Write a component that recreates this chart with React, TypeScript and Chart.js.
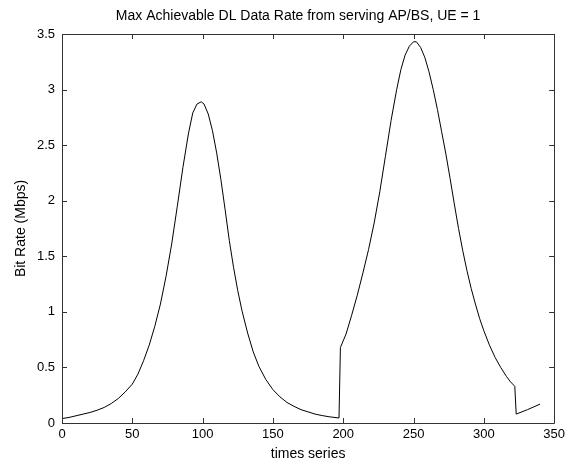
import React, { useEffect, useRef } from 'react';
import { Chart, registerables } from 'chart.js';

Chart.register(...registerables);

const chartTitle = 'Max Achievable DL Data Rate from serving AP/BS, UE = 1';
const xAxisLabel = 'times series';
const yAxisLabel = 'Bit Rate (Mbps)';

const xTickValues = [0, 50, 100, 150, 200, 250, 300, 350];
const yTickValues = [0, 0.5, 1, 1.5, 2, 2.5, 3, 3.5];

const timeSteps = [
  0, 5, 10, 15, 20, 25, 30, 35, 40, 45, 50, 54, 58, 62, 66, 70, 74, 78, 82, 86, 90, 93, 96, 99,
  101, 104, 107, 110, 113, 116, 119, 122, 125, 128, 132, 136, 140, 145, 150, 155, 160, 165, 170,
  175, 180, 185, 190, 197,
  198, 202, 206, 210, 214, 218, 222, 226, 230, 234, 238, 241, 244, 247, 250, 252,
  255, 258, 261, 264, 267, 270, 273, 276, 279, 282, 285, 288, 291, 294, 297, 300, 304, 308,
  312, 316, 319, 322,
  323, 331, 340,
];

const bitRates = [
  0.04, 0.05, 0.065, 0.08, 0.095, 0.115, 0.14, 0.175, 0.22, 0.28, 0.35, 0.44, 0.56, 0.7, 0.87, 1.07, 1.32, 1.61, 1.95, 2.3, 2.61, 2.79, 2.87, 2.89,
  2.87, 2.78, 2.63, 2.43, 2.19, 1.92, 1.64, 1.4, 1.19, 1.01, 0.81, 0.64, 0.51, 0.39, 0.3, 0.235, 0.185, 0.15, 0.12,
  0.1, 0.08, 0.067, 0.056, 0.045,
  0.68, 0.8, 0.97, 1.15, 1.35, 1.56, 1.8, 2.08, 2.4, 2.72, 3.0, 3.18, 3.31, 3.39, 3.43, 3.43,
  3.38, 3.29, 3.16, 3.0, 2.82, 2.62, 2.42, 2.2, 1.97, 1.75, 1.55, 1.37, 1.21, 1.07, 0.94, 0.83, 0.7, 0.59,
  0.5, 0.42, 0.37, 0.33,
  0.08, 0.12, 0.17,
];

const FONT = '"Liberation Sans", Arial, Helvetica, sans-serif';

const boxPlugin = {
  id: 'matlabBox',
  afterDatasetsDraw(chart: any) {
    const { ctx, chartArea, scales } = chart;
    const { left, right, top, bottom } = chartArea;
    const tick = 5;
    ctx.save();
    ctx.strokeStyle = '#333333';
    ctx.lineWidth = 1;
    ctx.beginPath();
    ctx.rect(Math.round(left) + 0.5, Math.round(top) + 0.5, Math.round(right - left), Math.round(bottom - top));
    ctx.stroke();
    ctx.beginPath();
    for (const v of xTickValues) {
      const x = Math.round(scales.x.getPixelForValue(v)) + 0.5;
      ctx.moveTo(x, bottom);
      ctx.lineTo(x, bottom - tick);
      ctx.moveTo(x, top);
      ctx.lineTo(x, top + tick);
    }
    for (const v of yTickValues) {
      const y = Math.round(scales.y.getPixelForValue(v)) + 0.5;
      ctx.moveTo(left, y);
      ctx.lineTo(left + tick, y);
      ctx.moveTo(right, y);
      ctx.lineTo(right - tick, y);
    }
    ctx.stroke();
    // chart title, MATLAB places it slightly left of the axes centre
    ctx.fillStyle = '#000000';
    ctx.font = `14px ${FONT}`;
    ctx.textAlign = 'center';
    ctx.textBaseline = 'middle';
    ctx.fillText(chartTitle, (left + right) / 2 - 10, 16);
    ctx.restore();
  },
};

export default function App() {
  const canvasRef = useRef<HTMLCanvasElement | null>(null);

  useEffect(() => {
    const canvas = canvasRef.current;
    if (!canvas) return;
    const points = timeSteps.map((t, i) => ({ x: t, y: bitRates[i] }));
    const chart = new Chart(canvas, {
      type: 'scatter',
      data: {
        datasets: [
          {
            data: points,
            showLine: true,
            borderColor: '#000000',
            borderWidth: 1,
            pointRadius: 0,
            tension: 0,
            fill: false,
          },
        ],
      },
      options: {
        animation: false,
        responsive: false,
        devicePixelRatio: 1,
        layout: { padding: { left: 0, right: 13, top: 34, bottom: 0 } },
        plugins: {
          legend: { display: false },
          tooltip: { enabled: false },
          title: { display: false },
        },
        scales: {
          x: {
            type: 'linear',
            min: 0,
            max: 350,
            afterBuildTicks: (s: any) => {
              s.ticks = xTickValues.map((v) => ({ value: v }));
            },
            afterFit: (s: any) => {
              s.height = 41;
            },
            grid: { display: false, drawTicks: false },
            border: { display: false },
            ticks: {
              color: '#000000',
              font: { family: FONT, size: 13 },
              padding: 4,
              maxRotation: 0,
              autoSkip: false,
              callback: (v: any) => String(Number(v)),
            },
            title: {
              display: true,
              text: xAxisLabel,
              color: '#000000',
              font: { family: FONT, size: 14 },
              padding: { top: 0, bottom: 1 },
            },
          },
          y: {
            type: 'linear',
            min: 0,
            max: 3.5,
            afterBuildTicks: (s: any) => {
              s.ticks = yTickValues.map((v) => ({ value: v }));
            },
            afterFit: (s: any) => {
              s.width = 62;
            },
            grid: { display: false, drawTicks: false },
            border: { display: false },
            ticks: {
              color: '#000000',
              font: { family: FONT, size: 13 },
              padding: 7,
              autoSkip: false,
              callback: (v: any) => String(Number(v)),
            },
            title: {
              display: true,
              text: yAxisLabel,
              color: '#000000',
              font: { family: FONT, size: 14 },
              padding: { top: 13, bottom: 0 },
            },
          },
        },
      },
      plugins: [boxPlugin],
    });
    return () => chart.destroy();
  }, []);

  return (
    <div style={{ position: 'fixed', left: 0, top: 0, width: 569, height: 464, background: '#ffffff' }}>
      <canvas ref={canvasRef} width={569} height={464} style={{ display: 'block' }} />
    </div>
  );
}
